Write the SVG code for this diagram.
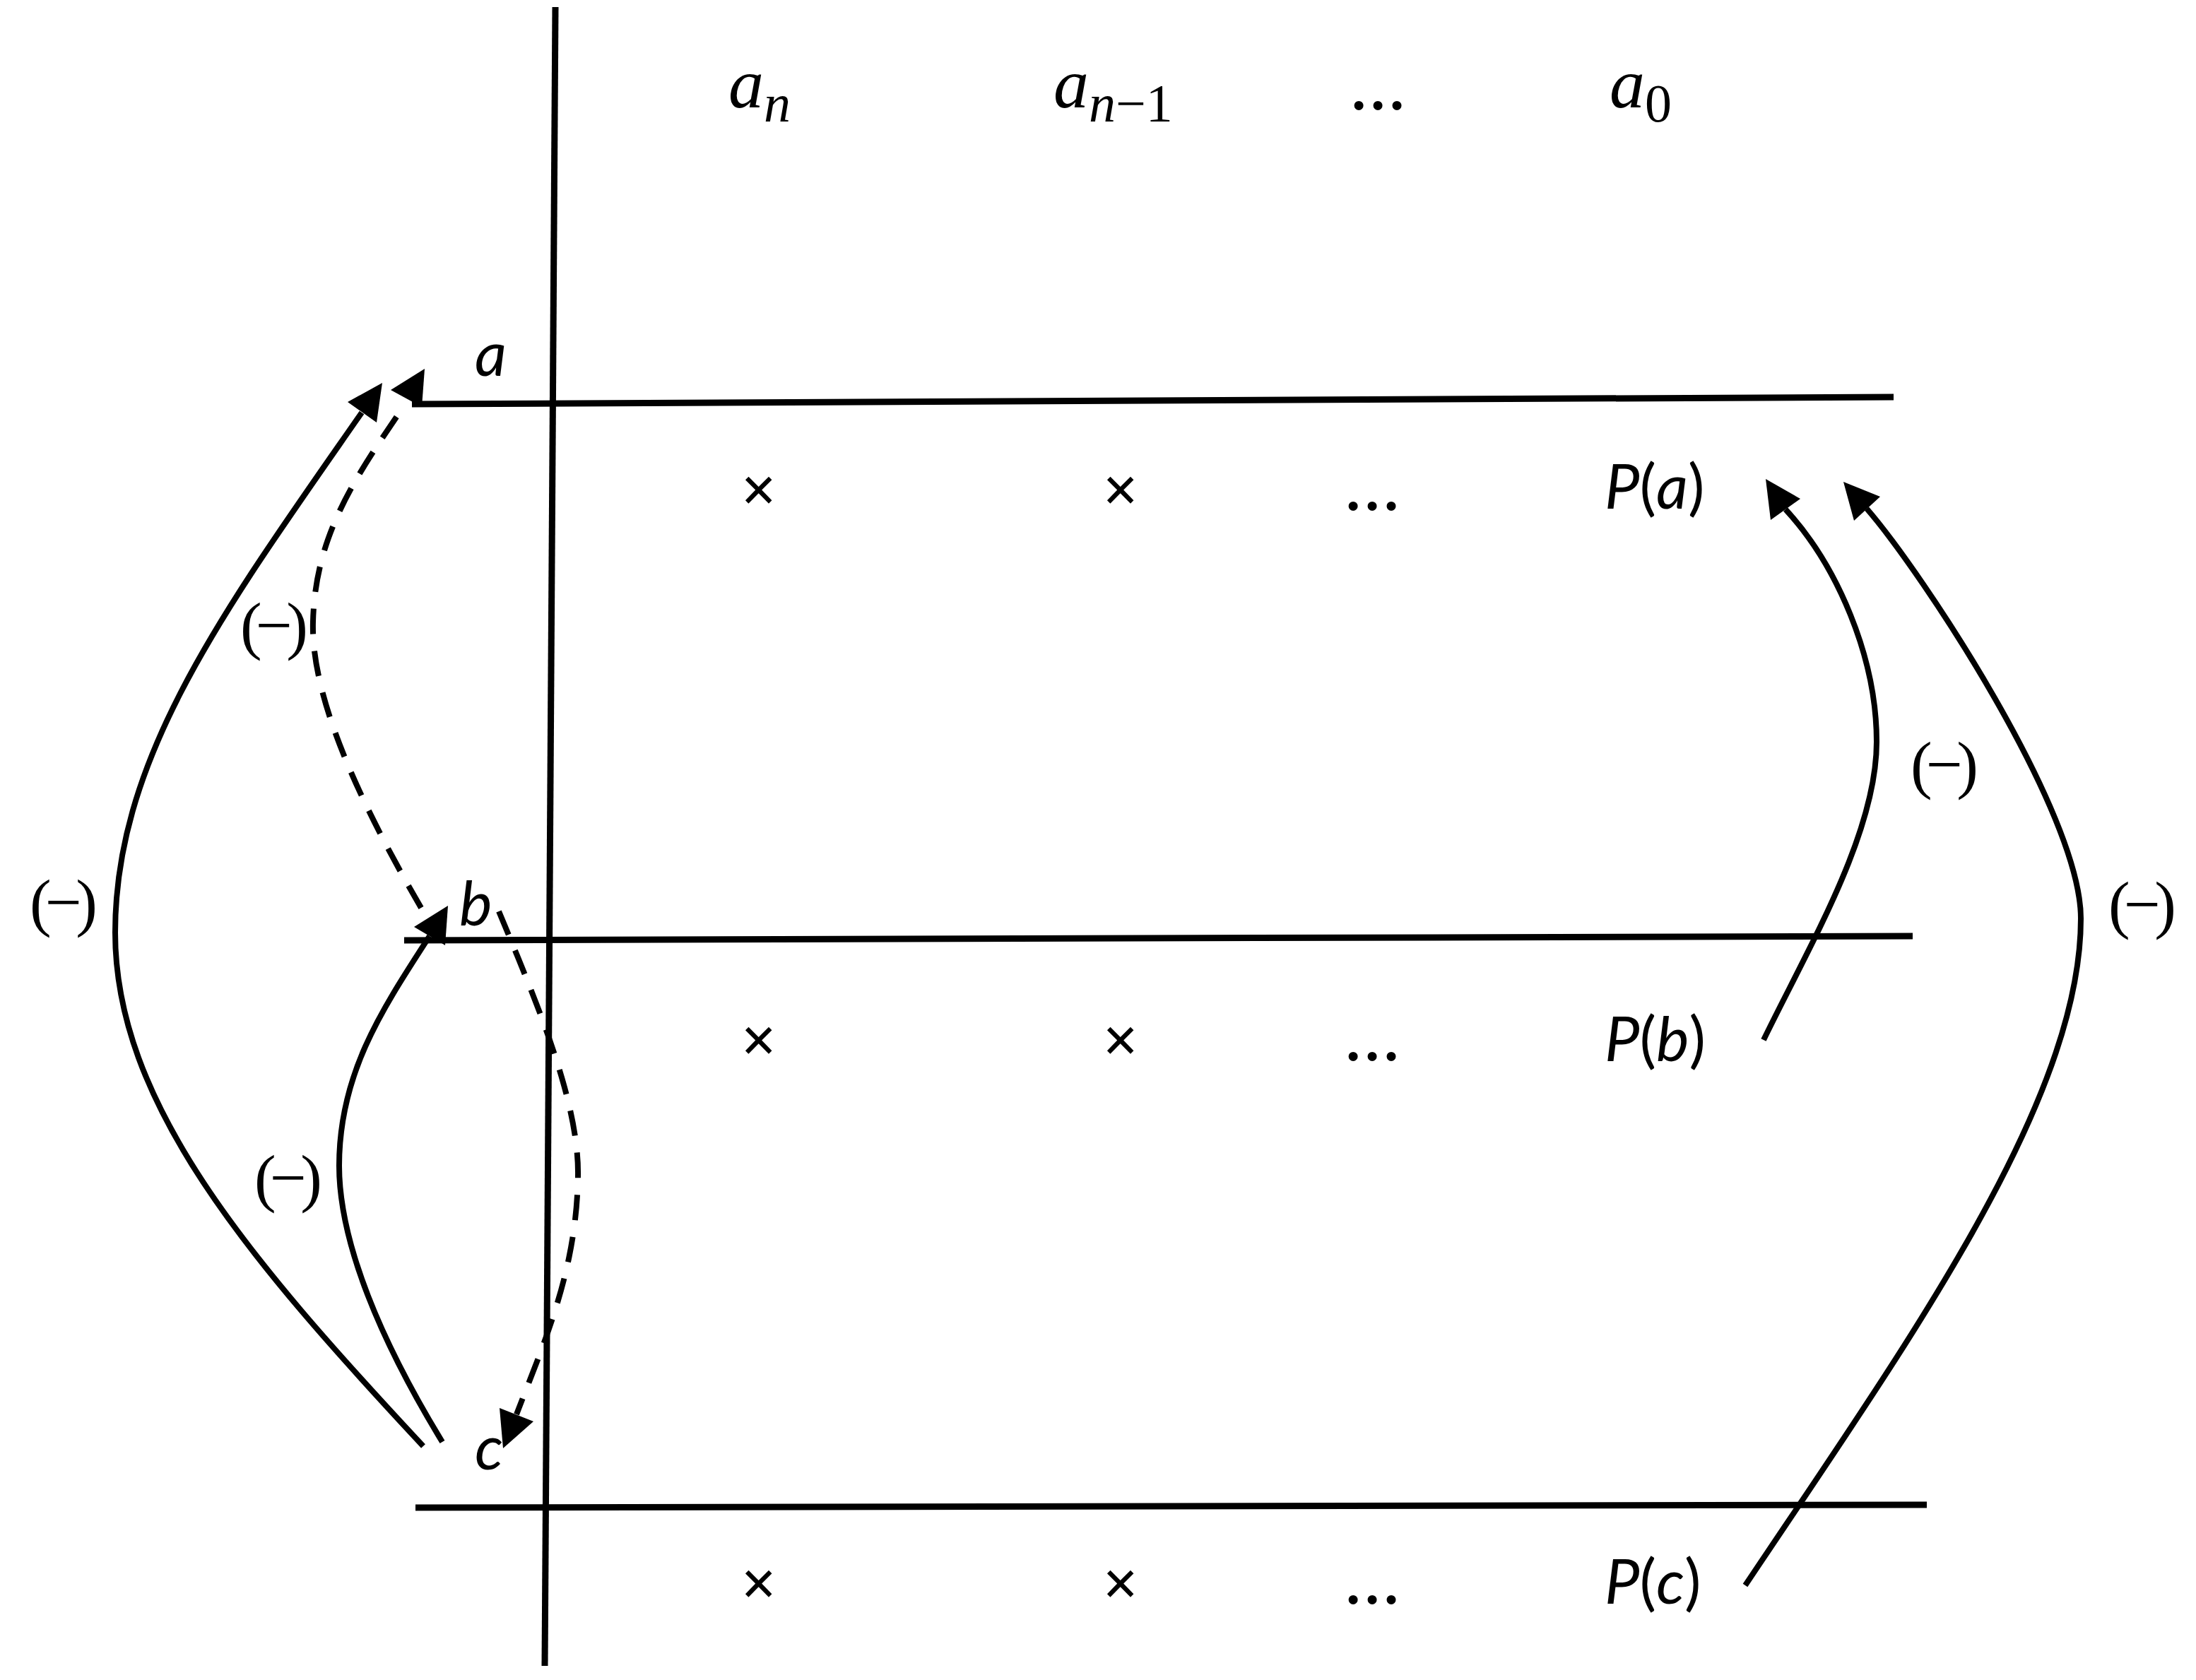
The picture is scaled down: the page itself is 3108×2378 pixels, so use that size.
<svg xmlns="http://www.w3.org/2000/svg" width="3108" height="2378" viewBox="0 0 3108 2378">
<style>
.ln{stroke:#000;stroke-width:9;fill:none;stroke-linecap:butt}
.cv{stroke:#000;stroke-width:8;fill:none}
.ds{stroke-dasharray:36 24}
.ah{fill:#000;stroke:none}
.m{font-family:"Liberation Serif","DejaVu Serif",serif;font-size:100px;fill:#000}
.mi{font-style:italic}
.sub{font-size:76px}
.op{font-family:"Liberation Serif","DejaVu Serif",serif;font-size:92px;fill:#000}
.lbl{font-family:Lato,"Liberation Sans",sans-serif;font-size:88px;fill:#000}
.it{font-style:italic}
.x{font-family:"Liberation Serif",serif;font-size:90px;font-weight:bold;fill:#000;text-anchor:middle}
.dots{font-family:"Liberation Serif",serif;font-size:80px;font-weight:bold;fill:#000;text-anchor:middle}
</style>
<rect width="3108" height="2378" fill="#fff"/>

<g id="axes">
<line class="ln" x1="786" y1="10" x2="771" y2="2358"/>
<line class="ln" x1="583" y1="572" x2="2680" y2="562"/>
<line class="ln" x1="572" y1="1331" x2="2707" y2="1325"/>
<line class="ln" x1="588" y1="2134" x2="2727" y2="2130"/>
</g>

<g id="header">
<text class="m" x="1031" y="152"><tspan class="mi">a</tspan><tspan class="sub mi" dy="20">n</tspan></text>
<text class="m" x="1491" y="152"><tspan class="mi">a</tspan><tspan class="sub mi" dy="20">n</tspan><tspan class="sub">−1</tspan></text>
<text class="dots" x="1950" y="155">…</text>
<text class="m" x="2278" y="152"><tspan class="mi">a</tspan><tspan class="sub" dy="20">0</tspan></text>
</g>

<g id="row-a">
<text class="x" x="1074" y="724">×</text>
<text class="x" x="1586" y="724">×</text>
<text class="dots" x="1942" y="722">…</text>
<text class="lbl" x="2271" y="720"><tspan class="it">P</tspan>(<tspan class="it">a</tspan>)</text>
</g>
<g id="row-b">
<text class="x" x="1074" y="1503">×</text>
<text class="x" x="1586" y="1503">×</text>
<text class="dots" x="1942" y="1501">…</text>
<text class="lbl" x="2271" y="1502"><tspan class="it">P</tspan>(<tspan class="it">b</tspan>)</text>
</g>
<g id="row-c">
<text class="x" x="1074" y="2272">×</text>
<text class="x" x="1586" y="2272">×</text>
<text class="dots" x="1942" y="2270">…</text>
<text class="lbl" x="2271" y="2270"><tspan class="it">P</tspan>(<tspan class="it">c</tspan>)</text>
</g>

<g id="point-labels">
<text class="lbl it" x="672" y="532">a</text>
<text class="lbl it" x="650" y="1310">b</text>
<text class="lbl it" x="672" y="2080">c</text>
</g>

<g id="sign-labels">
<text class="op" x="340" y="916" textLength="96" lengthAdjust="spacing">(−)</text>
<text class="op" x="42" y="1308" textLength="96" lengthAdjust="spacing">(−)</text>
<text class="op" x="360" y="1698" textLength="96" lengthAdjust="spacing">(−)</text>
<text class="op" x="2704" y="1113" textLength="96" lengthAdjust="spacing">(−)</text>
<text class="op" x="2984" y="1311" textLength="96" lengthAdjust="spacing">(−)</text>
</g>

<g id="connectors">
<path class="cv" d="M599,2047 C350,1780 163,1560 163,1320 C163,1070 320,860 512,584"/>
<polygon class="ah" points="541,542 492,569 533,598"/>
<path class="cv" d="M626,2041 C540,1900 480,1760 480,1650 C480,1520 540,1430 608,1325"/>
<polygon class="ah" points="634,1282 586,1312 630,1338"/>
<path class="cv ds" d="M596,1285 C500,1120 440,980 443,880 C446,760 500,680 566,583"/>
<polygon class="ah" points="553,552 601,522 597,576"/>
<path class="cv ds" d="M706,1290 C760,1420 820,1560 818,1665 C816,1800 770,1900 731,2002"/>
<polygon class="ah" points="712,2050 707,1993 755,2012"/>
<path class="cv" d="M2496,1472 C2560,1340 2656,1180 2656,1050 C2656,930 2600,800 2527,721"/>
<polygon class="ah" points="2499,678 2548,706 2506,736"/>
<path class="cv" d="M2470,2244 C2700,1900 2945,1560 2945,1300 C2945,1150 2720,810 2642,720"/>
<polygon class="ah" points="2609,682 2661,703 2624,737"/>
</g>
</svg>
